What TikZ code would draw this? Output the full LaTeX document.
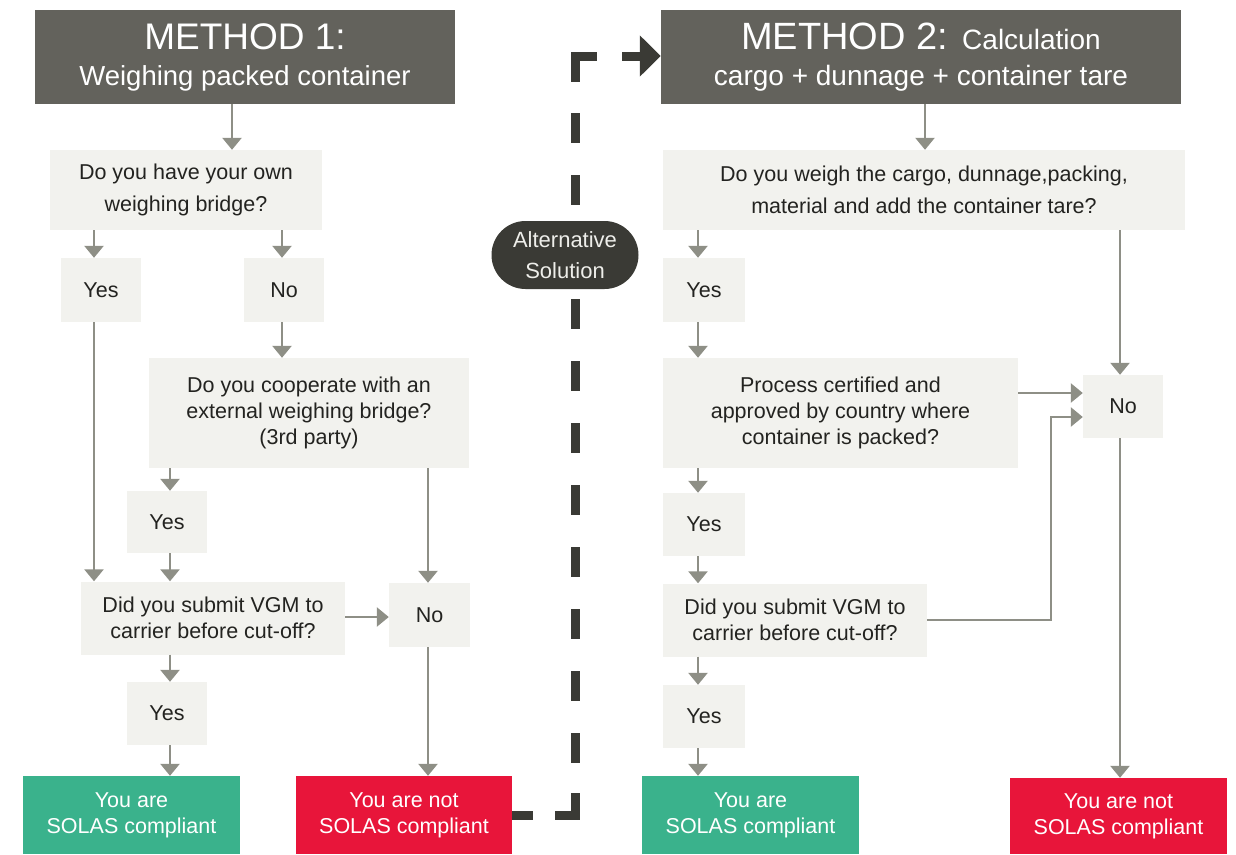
\documentclass[tikz,border=0pt]{standalone}
\usepackage{fontspec}
\setmainfont{Liberation Sans}
\usetikzlibrary{arrows.meta}
\definecolor{hdr}{RGB}{99,98,92}
\definecolor{lbox}{RGB}{242,242,238}
\definecolor{arrg}{RGB}{142,143,134}
\definecolor{darkc}{RGB}{58,58,53}
\definecolor{txtc}{RGB}{35,35,32}
\definecolor{okgreen}{RGB}{58,178,140}
\definecolor{nored}{RGB}{232,21,58}
\newcommand\bxfont{\fontsize{21.5}{26}\selectfont}
\newcommand\bxfontw{\fontsize{21.5}{32}\selectfont}
\begin{document}
\begin{tikzpicture}[x=1pt,y=-1pt,
  hbox/.style={fill=hdr, text=white, inner sep=0pt, align=center},
  qbox/.style={fill=lbox, text=txtc, inner sep=0pt, align=center, font=\bxfont},
  okbox/.style={fill=okgreen, text=white, inner sep=0pt, align=center, font=\bxfont},
  nobox/.style={fill=nored, text=white, inner sep=0pt, align=center, font=\bxfont},
  arr/.style={draw=arrg, line width=2.6pt, -{Triangle[length=12pt,width=19pt]}},
  alt/.style={draw=darkc, line width=9pt, line join=miter, -{Triangle[length=21pt,width=40pt]},
    dash pattern=on 21pt off 22pt on 42pt off 30pt on 30pt off 32pt on 30pt off 32pt on 30pt off 32pt on 30pt off 32pt on 30pt off 32pt on 30pt off 32pt on 30pt off 32pt on 30pt off 32pt on 30pt off 32pt on 30pt off 32pt on 30pt off 31pt on 48pt off 25pt on 300pt off 10pt},
  pill/.style={fill=darkc, text={rgb,255:red,238;green,238;blue,234}, inner sep=0pt, align=center, rounded corners=34pt, font=\fontsize{22}{31}\selectfont}
]
\useasboundingbox (0,0) rectangle (1236,854);

% column coordinates
\coordinate (cA) at (94,0);
\coordinate (cB) at (170,0);
\coordinate (cC) at (232,0);
\coordinate (cD) at (282,0);
\coordinate (cE) at (428,0);
\coordinate (cF) at (698,0);
\coordinate (cG) at (925,0);
\coordinate (cH) at (1120,0);
\coordinate (r1) at (0,393);
\coordinate (r2) at (1051,417);
\coordinate (r3) at (0,617);
\coordinate (dtop) at (575,56);

% headers
\node[hbox, minimum width=420pt, minimum height=94pt, font=\fontsize{27.5}{36}\selectfont] (h1) at (245,57)
  {{\fontsize{37}{38}\selectfont METHOD 1:}\\Weighing packed container};
\node[hbox, minimum width=520pt, minimum height=94pt, font=\fontsize{28}{36}\selectfont] (h2) at (921,57)
  {{\fontsize{38}{38}\selectfont METHOD 2: }Calculation\\cargo + dunnage + container tare};

% left column
\node[qbox, font=\bxfontw, minimum width=272pt, minimum height=80pt] (q1) at (186,190) {Do you have your own\\weighing bridge?};
\node[qbox, minimum width=80pt, minimum height=64pt] (yes1) at (101,290) {Yes};
\node[qbox, minimum width=80pt, minimum height=64pt] (no1) at (284,290) {No};
\node[qbox, minimum width=320pt, minimum height=110pt] (q2) at (309,413) {Do you cooperate with an\\external weighing bridge?\\(3rd party)};
\node[qbox, minimum width=80pt, minimum height=62pt] (yes2) at (167,522) {Yes};
\node[qbox, minimum width=264pt, minimum height=73pt] (q3) at (213,618) {Did you submit VGM to\\carrier before cut-off?};
\node[qbox, minimum width=81pt, minimum height=64pt] (no2) at (429.5,615) {No};
\node[qbox, minimum width=80pt, minimum height=63pt] (yes3) at (167,713.5) {Yes};
\node[okbox, minimum width=217pt, minimum height=78pt] (green1) at (131.5,815) {You are\\SOLAS compliant};
\node[nobox, minimum width=216pt, minimum height=78pt] (red1) at (404,815) {You are not\\SOLAS compliant};

% right column
\node[qbox, font=\bxfontw, minimum width=522pt, minimum height=80pt] (q4) at (924,190) {Do you weigh the cargo, dunnage,packing,\\material and add the container tare?};
\node[qbox, minimum width=82pt, minimum height=64pt] (yes4) at (704,290) {Yes};
\node[qbox, minimum width=355pt, minimum height=110pt] (q5) at (840.5,413) {Process certified and\\approved by country where\\container is packed?};
\node[qbox, minimum width=80pt, minimum height=63pt] (no3) at (1123,406.5) {No};
\node[qbox, minimum width=82pt, minimum height=63pt] (yes5) at (704,524.5) {Yes};
\node[qbox, minimum width=264pt, minimum height=73pt] (q6) at (795,620) {Did you submit VGM to\\carrier before cut-off?};
\node[qbox, minimum width=82pt, minimum height=63pt] (yes6) at (704,716.5) {Yes};
\node[okbox, minimum width=217pt, minimum height=78pt] (green2) at (750.5,815) {You are\\SOLAS compliant};
\node[nobox, minimum width=217pt, minimum height=76pt] (red2) at (1118.5,816) {You are not\\SOLAS compliant};

% alternative solution connector
\draw[alt] (red1.east) -| (dtop) -- (h2.west |- dtop);
\node[pill, minimum width=147pt, minimum height=68pt] (alt) at (565,255) {Alternative\\Solution};

% left arrows
\draw[arr] (h1.south -| cC) -- (q1.north -| cC);
\draw[arr] (q1.south -| cA) -- (yes1.north -| cA);
\draw[arr] (q1.south -| cD) -- (no1.north -| cD);
\draw[arr] (no1.south -| cD) -- (q2.north -| cD);
\draw[arr] (q2.south -| cB) -- (yes2.north -| cB);
\draw[arr] (yes1.south -| cA) -- (q3.north -| cA);
\draw[arr] (yes2.south -| cB) -- (q3.north -| cB);
\draw[arr] (q2.south -| cE) -- (no2.north -| cE);
\draw[arr] (q3.east |- r3) -- (no2.west |- r3);
\draw[arr] (q3.south -| cB) -- (yes3.north -| cB);
\draw[arr] (yes3.south -| cB) -- (green1.north -| cB);
\draw[arr] (no2.south -| cE) -- (red1.north -| cE);

% right arrows
\draw[arr] (h2.south -| cG) -- (q4.north -| cG);
\draw[arr] (q4.south -| cF) -- (yes4.north -| cF);
\draw[arr] (yes4.south -| cF) -- (q5.north -| cF);
\draw[arr] (q5.south -| cF) -- (yes5.north -| cF);
\draw[arr] (yes5.south -| cF) -- (q6.north -| cF);
\draw[arr] (q6.south -| cF) -- (yes6.north -| cF);
\draw[arr] (yes6.south -| cF) -- (green2.north -| cF);
\draw[arr] (q4.south -| cH) -- (no3.north -| cH);
\draw[arr] (no3.south -| cH) -- (red2.north -| cH);
\draw[arr] (q5.east |- r1) -- (no3.west |- r1);
\draw[arr] (q6.east) -| (r2) -- (no3.west |- r2);
\end{tikzpicture}
\end{document}
